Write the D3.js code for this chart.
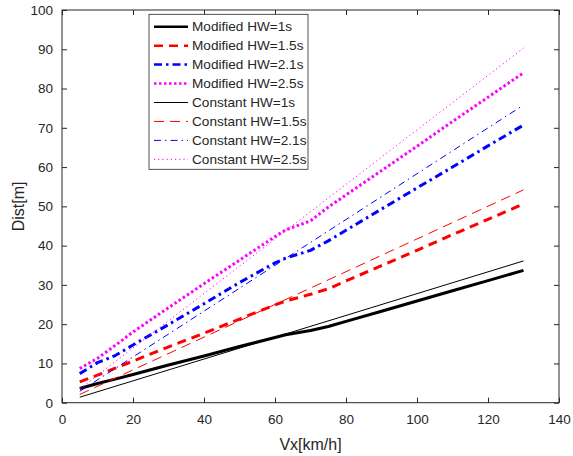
<!DOCTYPE html>
<html>
<head>
<meta charset="utf-8">
<script src="https://cdn.jsdelivr.net/npm/d3@7"></script>
<style>
  body { margin: 0; background: #fff; }
  text { font-family: "Liberation Sans", Arial, sans-serif; fill: #262626; }
</style>
</head>
<body>
<div id="chart"></div>
<script>
// speed samples (km/h)
var speeds = [5, 10, 15, 20, 30, 40, 50, 60, 63, 70, 75, 80, 90, 100, 110, 120, 130];
var modHW1 = [3.6, 4.9, 6.0, 7.2, 9.6, 11.9, 14.3, 16.6, 17.3, 18.4, 19.4, 20.7, 23.3, 25.9, 28.5, 31.1, 33.7];
var modHW15 = [5.3, 7.0, 8.8, 10.6, 14.2, 17.7, 21.3, 24.9, 25.9, 27.6, 29.0, 31.0, 34.9, 38.8, 42.8, 46.7, 50.6];
var modHW21 = [7.4, 10.2, 12.0, 14.7, 19.9, 25.2, 30.6, 35.6, 36.8, 38.8, 41.2, 43.9, 49.3, 54.7, 60.0, 65.4, 70.7];
var modHW25 = [8.7, 11.3, 14.6, 18.0, 24.2, 30.3, 36.3, 42.3, 44.0, 46.3, 49.8, 52.9, 59.1, 65.3, 71.6, 77.8, 84.0];

// constant headway lines only need the two ends
var constSpeeds = [5, 130];
var constHW1 = [1.4, 36.1];
var constHW15 = [2.1, 54.2];
var constHW21 = [2.9, 75.8];
var constHW25 = [3.5, 90.3];

var xTicks = [0, 20, 40, 60, 80, 100, 120, 140];
var yTicks = [0, 10, 20, 30, 40, 50, 60, 70, 80, 90, 100];

var series = [
    { name: "Modified HW=1s", xs: speeds, ys: modHW1, color: "#000000", w: 3, dash: null },
    { name: "Modified HW=1.5s", xs: speeds, ys: modHW15, color: "#ff0000", w: 3, dash: "9,6" },
    { name: "Modified HW=2.1s", xs: speeds, ys: modHW21, color: "#0000ff", w: 3, dash: "8,4,2.5,4" },
    { name: "Modified HW=2.5s", xs: speeds, ys: modHW25, color: "#ff00ff", w: 3, dash: "2.5,2.5" },
    { name: "Constant HW=1s", xs: constSpeeds, ys: constHW1, color: "#000000", w: 1, dash: null },
    { name: "Constant HW=1.5s", xs: constSpeeds, ys: constHW15, color: "#ff0000", w: 1, dash: "10,6" },
    { name: "Constant HW=2.1s", xs: constSpeeds, ys: constHW21, color: "#0000ff", w: 1, dash: "7,4,1.5,4" },
    { name: "Constant HW=2.5s", xs: constSpeeds, ys: constHW25, color: "#ff00ff", w: 1, dash: "1.2,3" }
];

var margin = { top: 10, right: 14, bottom: 53.3, left: 62 },
    width = 573 - margin.left - margin.right,
    height = 456 - margin.top - margin.bottom;

var svg = d3.select("#chart")
    .append("svg")
    .attr("width", 573)
    .attr("height", 456)
    .append("g")
    .attr("transform", "translate(" + margin.left + "," + margin.top + ")");

var x = d3.scaleLinear().domain([0, 140]).range([0, width]);
var y = d3.scaleLinear().domain([0, 100]).range([height, 0]);

// lines
var line = d3.line()
    .x(d => x(d[0]))
    .y(d => y(d[1]));

svg.append("g")
    .selectAll("path.series")
    .data(series)
    .join("path")
    .attr("class", "series")
    .attr("fill", "none")
    .attr("stroke", d => d.color)
    .attr("stroke-width", d => d.w)
    .attr("stroke-dasharray", d => d.dash)
    .attr("stroke-linejoin", "round")
    .attr("d", d => line(d.xs.map((v, i) => [v, d.ys[i]])));

// axes, ticks inside on all four sides like matlab
var axisColor = "#262626";
function styleAxis(g) {
    g.select(".domain").remove();
    g.selectAll(".tick line").attr("stroke", axisColor);
    g.selectAll(".tick text")
        .attr("fill", axisColor)
        .style("font-size", "13.5px")
        .style("font-family", "'Liberation Sans', Arial, sans-serif");
}

svg.append("g")
    .attr("transform", "translate(0," + height + ")")
    .call(d3.axisBottom(x).tickValues(xTicks).tickSizeInner(-5).tickSizeOuter(0).tickPadding(12))
    .call(styleAxis);
svg.append("g")
    .call(d3.axisTop(x).tickValues(xTicks).tickSizeInner(-5).tickSizeOuter(0).tickFormat(""))
    .call(styleAxis);
svg.append("g")
    .call(d3.axisLeft(y).tickValues(yTicks).tickSizeInner(-5).tickSizeOuter(0).tickPadding(9))
    .call(styleAxis);
svg.append("g")
    .attr("transform", "translate(" + width + ",0)")
    .call(d3.axisRight(y).tickValues(yTicks).tickSizeInner(-5).tickSizeOuter(0).tickFormat(""))
    .call(styleAxis);

svg.append("rect")
    .attr("width", width)
    .attr("height", height)
    .attr("fill", "none")
    .attr("stroke", axisColor)
    .attr("stroke-width", 1);

// axis labels
svg.append("text")
    .attr("text-anchor", "middle")
    .attr("x", width / 2)
    .attr("y", height + 47)
    .style("font-size", "16px")
    .text("Vx[km/h]");

svg.append("text")
    .attr("text-anchor", "middle")
    .attr("transform", "rotate(-90)")
    .attr("x", -height / 2)
    .attr("y", -38)
    .style("font-size", "16px")
    .text("Dist[m]");

// legend
var legend = svg.append("g")
    .attr("transform", "translate(" + (149 - margin.left) + "," + (14.3 - margin.top) + ")");

legend.append("rect")
    .attr("width", 159)
    .attr("height", 155)
    .attr("fill", "#fff")
    .attr("stroke", "#262626")
    .attr("stroke-width", 0.8);

var rows = legend.selectAll("g.row")
    .data(series)
    .join("g")
    .attr("class", "row")
    .attr("transform", (d, i) => "translate(0," + (12.4 + i * 18.95) + ")");

rows.append("line")
    .attr("x1", 5)
    .attr("x2", 39)
    .attr("stroke", d => d.color)
    .attr("stroke-width", d => d.w === 3 ? 2.5 : 1)
    .attr("stroke-dasharray", d => d.dash);

rows.append("text")
    .attr("x", 43)
    .attr("dy", "0.35em")
    .style("font-size", "13.6px")
    .text(d => d.name);
</script>
</body>
</html>
